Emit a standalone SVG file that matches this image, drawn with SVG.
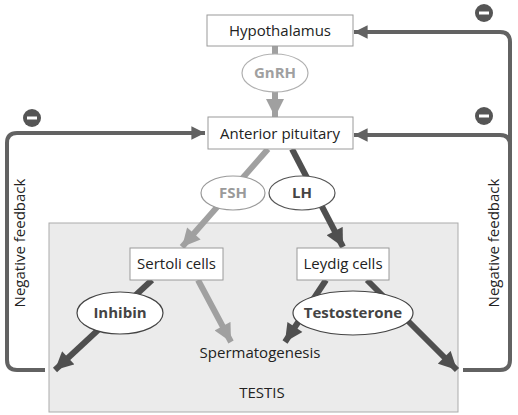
<svg xmlns="http://www.w3.org/2000/svg" width="518" height="415" viewBox="0 0 518 415">
<defs>
<style>
.box{fill:#fff;stroke:#9a9a9a;stroke-width:1}
.lbl{font-family:"Open Sans","Noto Sans",sans-serif;font-size:15px;fill:#222;text-anchor:middle}
.bold{font-weight:bold}
.fb{fill:none;stroke:#626262;stroke-width:4;stroke-linejoin:round}
.dk{stroke:#4f4f4f;stroke-width:6;fill:none}
.lt{stroke:#a0a0a0;stroke-width:6;fill:none}
.minus{fill:#555}
</style>
<marker id="hd" viewBox="0 0 10 10" refX="10" refY="5" markerWidth="3.2" markerHeight="3" orient="auto" markerUnits="strokeWidth"><path d="M0,0 L10,5 L0,10 z" fill="#4f4f4f"/></marker>
<marker id="hl" viewBox="0 0 10 10" refX="10" refY="5" markerWidth="3.2" markerHeight="3" orient="auto" markerUnits="strokeWidth"><path d="M0,0 L10,5 L0,10 z" fill="#a0a0a0"/></marker>
<marker id="hf" viewBox="0 0 10 10" refX="10" refY="5" markerWidth="3.4" markerHeight="3.4" orient="auto" markerUnits="strokeWidth"><path d="M0,0 L10,5 L0,10 z" fill="#626262"/></marker>
</defs>

<g id="testis">
<rect x="49" y="223" width="409" height="189" fill="#ebebeb" stroke="#ababab" stroke-width="1"/>
<text class="lbl" x="262" y="398">TESTIS</text>
</g>

<g id="connectors">
<path class="fb" d="M45,370 H17 Q7,370 7,360 V143 Q7,133 17,133 H205" marker-end="url(#hf)"/>
<path class="fb" d="M463,370 H500 Q510,370 510,360 V42 Q510,32 500,32 H354" marker-end="url(#hf)"/>
<path class="fb" d="M510,145 Q510,135 500,135 H354" marker-end="url(#hf)"/>
<line class="lt" x1="275" y1="46" x2="275" y2="58"/>
<line class="lt" x1="275" y1="90" x2="275" y2="117" marker-end="url(#hl)"/>
<line class="lt" x1="268" y1="149" x2="182" y2="247" marker-end="url(#hl)"/>
<line class="dk" x1="292" y1="149" x2="343" y2="247" marker-end="url(#hd)"/>
<line class="dk" x1="152" y1="280" x2="55" y2="370" marker-end="url(#hd)"/>
<line class="lt" x1="198" y1="280" x2="231" y2="342" marker-end="url(#hl)"/>
<line class="dk" x1="326" y1="280" x2="285" y2="342" marker-end="url(#hd)"/>
<line class="dk" x1="367" y1="280" x2="457" y2="370" marker-end="url(#hd)"/>
</g>

<g id="minus-signs">
<g><circle class="minus" cx="32" cy="118" r="9"/><rect x="27" y="116.5" width="10" height="3" fill="#fff"/></g>
<g><circle class="minus" cx="484" cy="13" r="9"/><rect x="479" y="11.5" width="10" height="3" fill="#fff"/></g>
<g><circle class="minus" cx="484" cy="116" r="9"/><rect x="479" y="114.5" width="10" height="3" fill="#fff"/></g>
</g>

<g id="hypothalamus">
<rect class="box" x="207" y="15" width="146" height="31"/>
<text class="lbl" x="280" y="36">Hypothalamus</text>
</g>
<g id="gnrh">
<ellipse cx="275" cy="73" rx="33" ry="19" fill="#fff" stroke="#b0b0b0" stroke-width="1.2"/>
<text class="lbl bold" x="275" y="78" style="fill:#a0a0a0">GnRH</text>
</g>
<g id="pituitary">
<rect class="box" x="208" y="117" width="145" height="32"/>
<text class="lbl" x="280" y="139">Anterior pituitary</text>
</g>
<g id="fsh">
<ellipse cx="233" cy="193" rx="32" ry="17" fill="#fff" stroke="#9a9a9a" stroke-width="1.2"/>
<text class="lbl bold" x="233" y="198" style="fill:#9a9a9a">FSH</text>
</g>
<g id="lh">
<ellipse cx="302" cy="193" rx="33" ry="17" fill="#fff" stroke="#555" stroke-width="1.2"/>
<text class="lbl bold" x="302" y="198" style="fill:#444">LH</text>
</g>
<g id="sertoli">
<rect class="box" x="130" y="248" width="93" height="32"/>
<text class="lbl" x="176.5" y="269">Sertoli cells</text>
</g>
<g id="leydig">
<rect class="box" x="297" y="248" width="92" height="32"/>
<text class="lbl" x="343" y="269">Leydig cells</text>
</g>
<g id="inhibin">
<ellipse cx="120" cy="313" rx="43" ry="21" fill="#fff" stroke="#444" stroke-width="1.2"/>
<text class="lbl bold" x="120" y="318" style="fill:#444">Inhibin</text>
</g>
<g id="testosterone">
<ellipse cx="353" cy="313" rx="60" ry="22" fill="#fff" stroke="#444" stroke-width="1.2"/>
<text class="lbl bold" x="353" y="318" style="fill:#444">Testosterone</text>
</g>
<g id="spermatogenesis">
<text class="lbl" x="260" y="358">Spermatogenesis</text>
</g>
<g id="feedback-labels">
<text class="lbl" transform="translate(25,243) rotate(-90)">Negative feedback</text>
<text class="lbl" transform="translate(499,243) rotate(-90)">Negative feedback</text>
</g>
</svg>
